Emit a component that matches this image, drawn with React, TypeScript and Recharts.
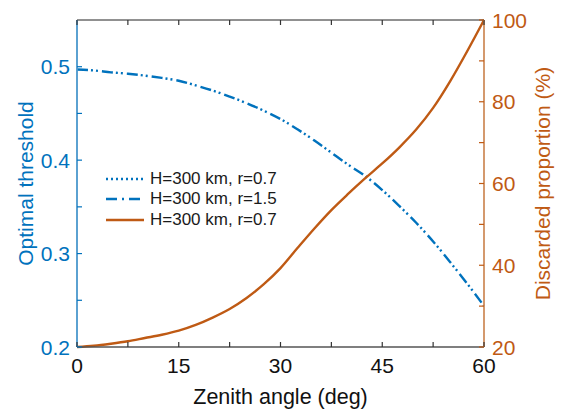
import React from 'react';
import { ComposedChart, Line, XAxis, YAxis, Legend, Label } from 'recharts';

const angles = [0, 2.5, 5, 7.5, 10, 12.5, 15, 17.5, 20, 22.5, 25, 27.5, 30, 32.5, 35, 37.5, 40, 42.5, 45, 47.5, 50, 52.5, 55, 57.5, 60];
const thresholdR07 = [0.497, 0.496, 0.494, 0.4925, 0.4905, 0.488, 0.485, 0.48, 0.4745, 0.468, 0.461, 0.453, 0.444, 0.433, 0.421, 0.408, 0.395, 0.383, 0.368, 0.351, 0.333, 0.313, 0.291, 0.268, 0.244];
const thresholdR15 = [0.497, 0.496, 0.494, 0.4925, 0.4905, 0.488, 0.485, 0.48, 0.4745, 0.468, 0.461, 0.453, 0.444, 0.433, 0.421, 0.408, 0.395, 0.383, 0.368, 0.351, 0.333, 0.313, 0.291, 0.268, 0.244];
const discarded = [20, 20.3, 20.8, 21.4, 22.2, 23.0, 24.0, 25.4, 27.2, 29.3, 32.0, 35.3, 39.3, 44.2, 49.0, 53.5, 57.5, 61.3, 64.9, 68.8, 73.2, 78.5, 85.0, 92.3, 100];

const xTicks = [0, 7.5, 15, 22.5, 30, 37.5, 45, 52.5, 60];
const xLabelTicks = [0, 15, 30, 45, 60];
const leftTicks = [0.2, 0.25, 0.3, 0.35, 0.4, 0.45, 0.5];
const leftLabelTicks = [0.2, 0.3, 0.4, 0.5];
const rightTicks = [20, 30, 40, 50, 60, 70, 80, 90, 100];
const rightLabelTicks = [20, 40, 60, 80, 100];

const legendNames = ['H=300 km, r=0.7', 'H=300 km, r=1.5', 'H=300 km, r=0.7'];

const data = angles.map((a, i) => ({
  angle: a,
  t07: thresholdR07[i],
  t15: thresholdR15[i],
  disc: discarded[i],
}));

const BLUE = '#0072BD';
const ORANGE = '#BF5A14';
const FONT = '"Liberation Sans", Arial, Helvetica, sans-serif';
const M = 8;
const TL = 5;
const TICK_FS = 21;

const near = (arr: number[], v: number) => arr.some((t) => Math.abs(t - v) < 1e-6);

const BottomTick = (p: any) => {
  const { x, y, payload } = p;
  const ay = y - M;
  const v = payload.value;
  return (
    <g>
      <line x1={x} x2={x} y1={ay} y2={ay - TL} stroke="#333" strokeWidth={1.2} />
      {near(xLabelTicks, v) && (
        <text x={x} y={ay + 26} textAnchor="middle" fontSize={TICK_FS} fontFamily={FONT} fill="#111">
          {v}
        </text>
      )}
    </g>
  );
};

const TopTick = (p: any) => {
  const { x, y } = p;
  const ay = y + M;
  return <line x1={x} x2={x} y1={ay} y2={ay + TL} stroke="#333" strokeWidth={1.2} />;
};

const LeftTick = (p: any) => {
  const { x, y, payload } = p;
  const ax = x + M;
  const v = payload.value;
  return (
    <g>
      <line x1={ax} x2={ax + TL} y1={y} y2={y} stroke={BLUE} strokeWidth={1.2} />
      {near(leftLabelTicks, v) && (
        <text x={ax - 7} y={y + 7.5} textAnchor="end" fontSize={TICK_FS} fontFamily={FONT} fill={BLUE}>
          {v.toFixed(1)}
        </text>
      )}
    </g>
  );
};

const RightTick = (p: any) => {
  const { x, y, payload } = p;
  const ax = x - M;
  const v = payload.value;
  return (
    <g>
      <line x1={ax} x2={ax - TL} y1={y} y2={y} stroke={ORANGE} strokeWidth={1.2} />
      {near(rightLabelTicks, v) && (
        <text x={ax + 8} y={y + 7.5} textAnchor="start" fontSize={TICK_FS} fontFamily={FONT} fill={ORANGE}>
          {v}
        </text>
      )}
    </g>
  );
};

const LeftTitle = (p: any) => {
  const vb = p.viewBox;
  const cx = vb.x + 25;
  const cy = vb.y + vb.height / 2;
  return (
    <text x={cx} y={cy} transform={`rotate(-90 ${cx} ${cy})`} textAnchor="middle" dominantBaseline="central" fontSize={21} fontFamily={FONT} fill={BLUE}>
      Optimal threshold
    </text>
  );
};

const RightTitle = (p: any) => {
  const vb = p.viewBox;
  const cx = vb.x + 58;
  const cy = vb.y + vb.height / 2;
  return (
    <text x={cx} y={cy} transform={`rotate(-90 ${cx} ${cy})`} textAnchor="middle" dominantBaseline="central" fontSize={21} fontFamily={FONT} fill={ORANGE}>
      Discarded proportion (%)
    </text>
  );
};

const BottomTitle = (p: any) => {
  const vb = p.viewBox;
  const cx = vb.x + vb.width / 2;
  return (
    <text x={cx} y={vb.y + 57} textAnchor="middle" fontSize={21.5} fontFamily={FONT} fill="#111">
      Zenith angle (deg)
    </text>
  );
};

const legendStyles = [
  { stroke: BLUE, dash: '2 3' },
  { stroke: BLUE, dash: '11 5 2 5' },
  { stroke: ORANGE, dash: undefined },
];

const LegendContent = () => (
  <div style={{ fontFamily: FONT, fontSize: 17, color: '#1a1a1a' }}>
    {legendNames.map((n, i) => (
      <div key={i} style={{ display: 'flex', alignItems: 'center', height: 20.3 }}>
        <svg width={40} height={10} style={{ marginRight: 5 }}>
          <line x1={1} x2={39} y1={5} y2={5} stroke={legendStyles[i].stroke} strokeWidth={2.4} strokeDasharray={legendStyles[i].dash} />
        </svg>
        <span style={{ whiteSpace: 'nowrap' }}>{n}</span>
      </div>
    ))}
  </div>
);

export default function App() {
  return (
    <div style={{ position: 'absolute', left: 0, top: 0, width: 567, height: 412, background: '#fff' }}>
      <ComposedChart width={567} height={412} data={data} margin={{ top: 0, right: 0, bottom: 0, left: 0 }}>
        <XAxis
          xAxisId="bottom"
          dataKey="angle"
          type="number"
          domain={[0, 60]}
          ticks={xTicks}
          interval={0}
          height={65}
          tickSize={0}
          tickMargin={M}
          tick={<BottomTick />}
          axisLine={{ stroke: '#555', strokeWidth: 1.6 }}
        >
          <Label content={<BottomTitle />} />
        </XAxis>
        <XAxis
          xAxisId="top"
          orientation="top"
          dataKey="angle"
          type="number"
          domain={[0, 60]}
          ticks={xTicks}
          interval={0}
          height={20}
          tickSize={0}
          tickMargin={M}
          tick={<TopTick />}
          axisLine={{ stroke: '#222', strokeWidth: 1 }}
        />
        <YAxis
          yAxisId="left"
          type="number"
          domain={[0.2, 0.55]}
          ticks={leftTicks}
          interval={0}
          width={77}
          tickSize={0}
          tickMargin={M}
          tick={<LeftTick />}
          axisLine={{ stroke: '#4a97cc', strokeWidth: 1.8 }}
        >
          <Label content={<LeftTitle />} />
        </YAxis>
        <YAxis
          yAxisId="right"
          orientation="right"
          type="number"
          domain={[20, 100]}
          ticks={rightTicks}
          interval={0}
          width={83}
          tickSize={0}
          tickMargin={M}
          tick={<RightTick />}
          axisLine={{ stroke: '#d08e5e', strokeWidth: 1.8 }}
        >
          <Label content={<RightTitle />} />
        </YAxis>
        <Legend layout="vertical" align="center" verticalAlign="middle" content={<LegendContent />} wrapperStyle={{ left: 105, top: 169, width: 220, height: 62 }} />
        <Line xAxisId="bottom" yAxisId="left" type="monotone" dataKey="t15" name={legendNames[1]} stroke={BLUE} strokeWidth={2.4} strokeDasharray="11 8 2 4" dot={false} isAnimationActive={false} />
        <Line xAxisId="bottom" yAxisId="left" type="monotone" dataKey="t07" name={legendNames[0]} stroke={BLUE} strokeWidth={2.4} strokeDasharray="0 14 2 9" dot={false} isAnimationActive={false} />
        <Line xAxisId="bottom" yAxisId="right" type="monotone" dataKey="disc" name={legendNames[2]} stroke={ORANGE} strokeWidth={2.4} dot={false} isAnimationActive={false} />
      </ComposedChart>
    </div>
  );
}
